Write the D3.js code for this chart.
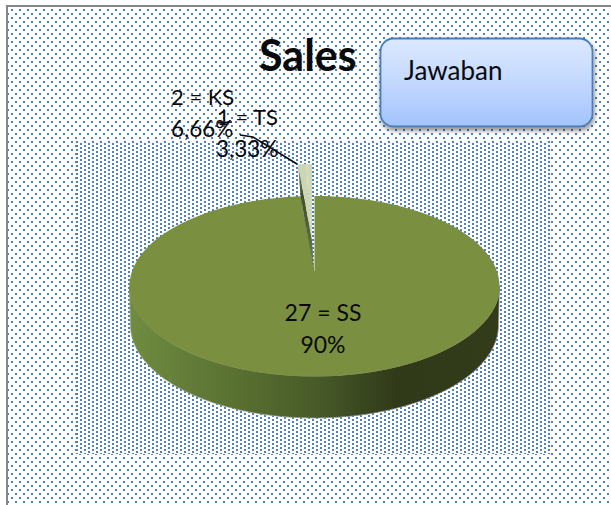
<!DOCTYPE html>
<html><head><meta charset="utf-8">
<script src="https://cdn.jsdelivr.net/npm/d3@7"></script>
<style>html,body{margin:0;padding:0;background:#fff;overflow:hidden}svg{display:block}text{font-family:Lato,"Open Sans",sans-serif;fill:#0a0a0a}</style>
</head><body><div id="c"></div>
<script>
const categories = ["SS", "KS", "TS"];
const counts = [27, 2, 1];
const percentLabels = ["90%", "6,66%", "3,33%"];
// angular shares as they are actually drawn in the picture
const drawnShares = [0.988, 0.007, 0.005];
const titleText = "Sales";
const legendText = "Jawaban";

const W = 611, H = 505;
const svg = d3.select("#c").append("svg").attr("width", W).attr("height", H);
const defs = svg.append("defs");

function dots(id, x, y, w, h, pts) {
  const p = defs.append("pattern").attr("id", id).attr("patternUnits", "userSpaceOnUse")
    .attr("x", x).attr("y", y).attr("width", w).attr("height", h);
  pts.forEach(q => p.append("rect").attr("x", q[0]).attr("y", q[1]).attr("width", 2).attr("height", 2).attr("fill", "#4f81bd"));
}
dots("outer", 11, 9, 8, 8, [[0, 0], [4, 4]]);
dots("inner", 76, 141, 8, 4, [[0, 0], [4, 2]]);

const grad = (id, x1, y1, x2, y2, stops) => {
  const g = defs.append("linearGradient").attr("id", id).attr("gradientUnits", "userSpaceOnUse")
    .attr("x1", x1).attr("y1", y1).attr("x2", x2).attr("y2", y2);
  stops.forEach(s => g.append("stop").attr("offset", s[0]).attr("stop-color", s[1]));
};
grad("wall", 130, 0, 499, 0, [[0, "#6f8c41"], [0.25, "#5c7433"], [0.5, "#485b28"], [0.72, "#303a19"], [1, "#323c1a"]]);
grad("box", 0, 38, 0, 126, [[0, "#dce9ff"], [0.5, "#c4d8ff"], [1, "#a3c4fe"]]);
grad("side", 0, 164, 0, 272, [[0, "#8d9579"], [0.3, "#414c2b"], [0.65, "#56683a"], [1, "#73883f"]]);
const f = defs.append("filter").attr("id", "sh").attr("x", "-10%").attr("y", "-10%").attr("width", "125%").attr("height", "130%");
f.append("feDropShadow").attr("dx", 1).attr("dy", 3).attr("stdDeviation", 2.5).attr("flood-color", "#000").attr("flood-opacity", 0.45);

// chart area + plot area backgrounds
svg.append("rect").attr("x", 6).attr("y", 5).attr("width", W - 6).attr("height", H - 5).attr("fill", "url(#outer)");
svg.append("rect").attr("x", 76).attr("y", 141).attr("width", 474).attr("height", 313).attr("fill", "#fff");
svg.append("rect").attr("x", 76).attr("y", 141).attr("width", 474).attr("height", 313).attr("fill", "url(#inner)");
svg.append("path").attr("d", d3.line()([[7, H], [7, 6], [W, 6]])).attr("fill", "none").attr("stroke", "#868686").attr("stroke-width", 2);

// pie
const cx = 314.5, cy = 286, rx = 185, ry = 90, apexY = 272;
const botCy = 325, botRx = 184, botRy = 93;
const rim = (t, ox = 0, oy = 0) => [cx + rx * Math.sin(t) + ox, cy - ry * Math.cos(t) + oy];
const line = d3.line();
const pie = d3.pie().sort(null).startAngle(0).endAngle(2 * Math.PI);
const arcs = pie(drawnShares);
const sweep = (a, b, ox, oy) => d3.range(0, 121).map(i => rim(a + (b - a) * i / 120, ox, oy));

// side wall (front half of the big slice)
const front = d3.range(0, 121).map(i => Math.PI / 2 + Math.PI * i / 120);
const wallPts = front.map(t => rim(t)).concat(front.slice().reverse().map(t => [cx + botRx * Math.sin(t), botCy - botRy * Math.cos(t)]));
svg.append("path").attr("d", line(wallPts) + "Z").attr("fill", "url(#wall)").attr("stroke", "#9a9a94").attr("stroke-width", 1).attr("stroke-opacity", 0.7);
svg.append("path").attr("d", line(front.map(t => rim(t)))).attr("fill", "none").attr("stroke", "#7a9040").attr("stroke-width", 1);

// big slice top
const big = arcs[0];
svg.append("path").attr("d", line([[cx, apexY]].concat(sweep(big.startAngle, big.endAngle, 0, 0))) + "Z").attr("fill", "#7a9040");

// exploded small slices
const ex = -2.5, ey = -32;
const leftEdge = arcs[1].startAngle;
svg.append("path").attr("d", line([rim(leftEdge, ex, ey), rim(leftEdge), [cx - 0.5, apexY], [cx + ex, apexY + ey]]) + "Z").attr("fill", "url(#side)");
const tones = [null, "#ccd6b3", "#d0d9ba"];
[1, 2].forEach(i => {
  const a = arcs[i];
  svg.append("path").attr("d", line([[cx + ex, apexY + ey]].concat(sweep(a.startAngle, a.endAngle, ex, ey))) + "Z").attr("fill", tones[i]);
});

// leader lines
const leaderTS = [[297, 164], [253, 137], [240, 135]];
const leaderKS = [[218, 123], [232, 122]];
[leaderTS, leaderKS].forEach(l => svg.append("path").attr("d", line(l)).attr("fill", "none").attr("stroke", "#0a0a0a").attr("stroke-width", 1.5));

// labels
const lab = (s, x, y, size, anchor, weight) => svg.append("text").attr("x", x).attr("y", y).attr("font-size", size)
  .attr("text-anchor", anchor || "start").attr("font-weight", weight || 400).text(s);
lab(`${counts[1]} = ${categories[1]}`, 171, 105, 22);
lab(percentLabels[1], 171, 137, 22.5);
lab(`${counts[2]} = ${categories[2]}`, 217, 125, 22);
lab(percentLabels[2], 216, 157, 22.5);
lab(`${counts[0]} = ${categories[0]}`, 323, 321, 23, "middle");
lab(percentLabels[0], 323, 353, 23, "middle");
lab(titleText, 259, 71, 43, "start", 700);

// legend box
svg.append("rect").attr("x", 380.5).attr("y", 38.5).attr("width", 212).attr("height", 88).attr("rx", 13)
  .attr("fill", "url(#box)").attr("stroke", "#4a7ebb").attr("stroke-width", 1.8).attr("filter", "url(#sh)");
lab(legendText, 404, 80, 26);
</script></body></html>
